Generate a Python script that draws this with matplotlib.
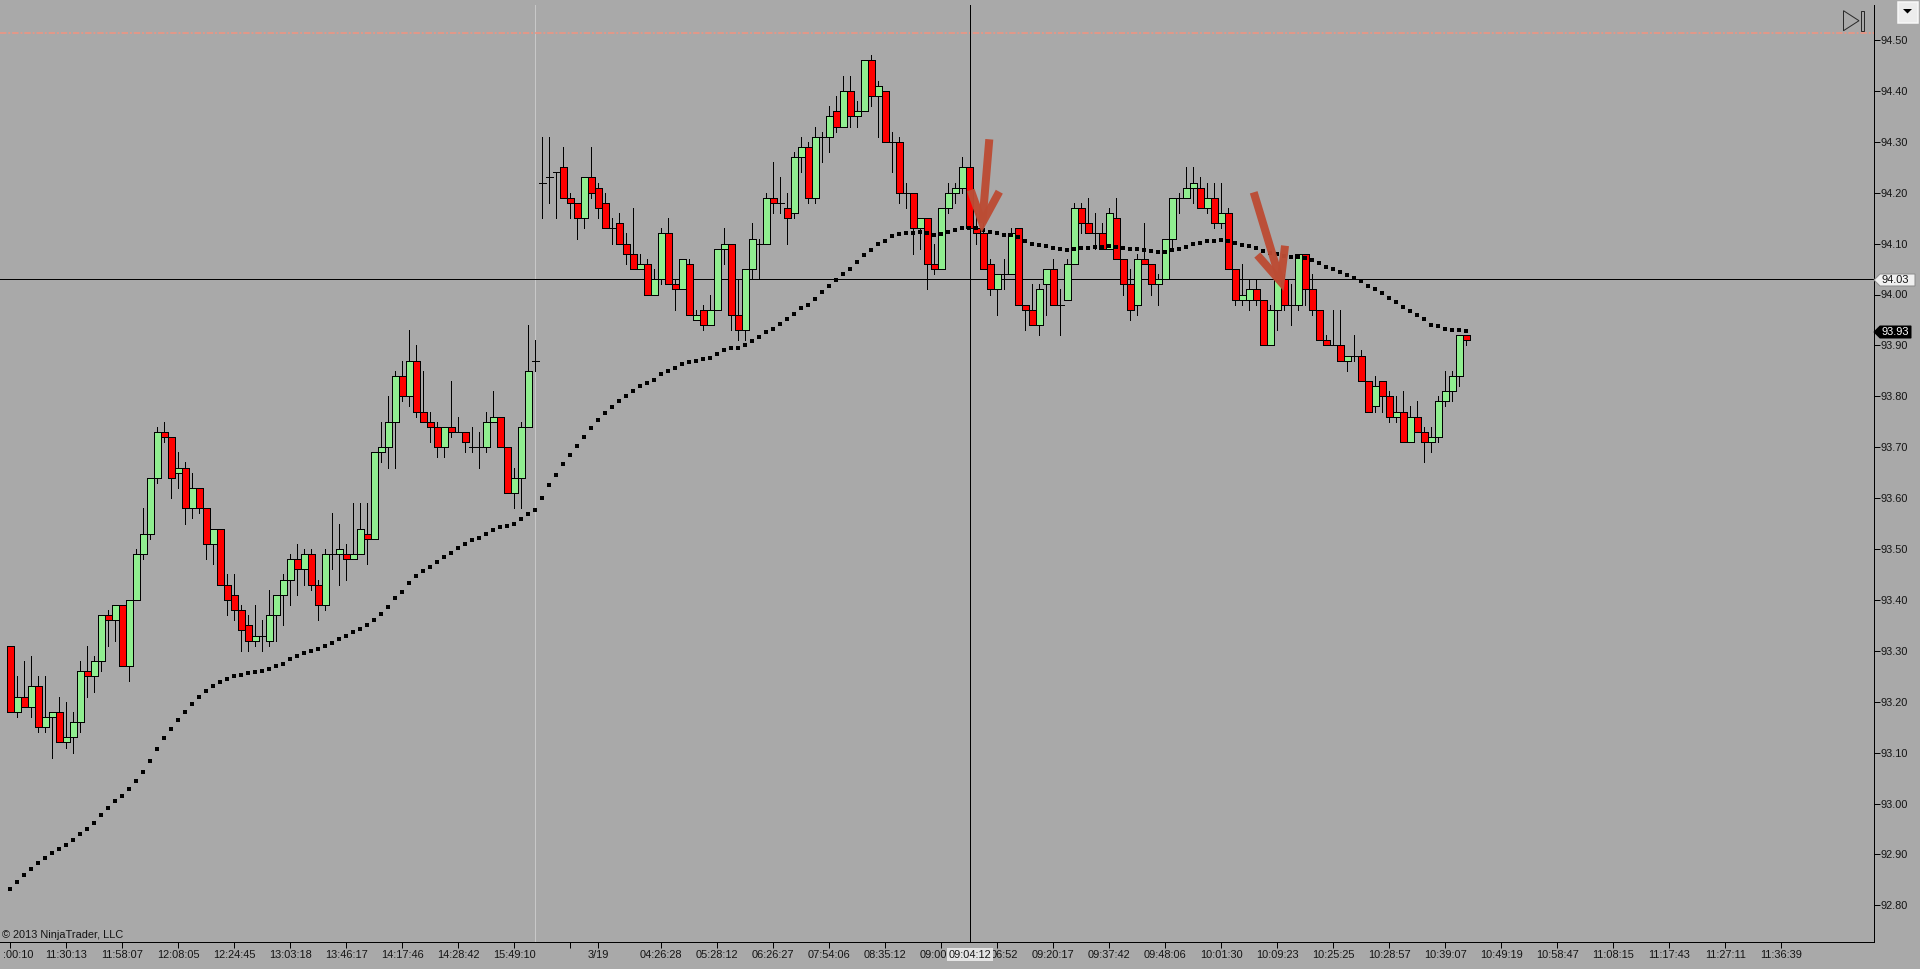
import numpy as np
import matplotlib
matplotlib.use('Agg')
import matplotlib.pyplot as plt
from matplotlib.patches import Polygon, Rectangle
from matplotlib.transforms import Affine2D, ScaledTranslation

# OHLC values, one entry per bar
opens = [
    93.31,93.18,93.21,93.19,93.23,93.15,93.17,93.18,93.12,93.13,
    93.16,93.26,93.25,93.28,93.37,93.36,93.39,93.27,93.40,93.49,
    93.53,93.64,93.73,93.72,93.65,93.66,93.58,93.62,93.58,93.51,
    93.54,93.43,93.41,93.38,93.35,93.32,93.33,93.32,93.37,93.41,
    93.44,93.48,93.46,93.49,93.43,93.39,93.49,93.49,93.49,93.48,
    93.49,93.53,93.52,93.69,93.70,93.75,93.84,93.80,93.87,93.77,
    93.75,93.74,93.70,93.74,93.73,93.73,93.70,93.70,93.70,93.75,
    93.76,93.70,93.61,93.64,93.74,93.87,94.22,94.23,94.24,94.25,
    94.19,94.18,94.15,94.23,94.21,94.18,94.13,94.14,94.10,94.08,
    94.05,94.06,94.00,94.03,94.12,94.02,94.01,94.06,93.95,93.97,
    93.94,93.97,94.09,94.10,93.96,93.93,94.05,94.10,94.10,94.19,
    94.18,94.17,94.16,94.27,94.29,94.19,94.31,94.31,94.36,94.33,
    94.40,94.35,94.36,94.46,94.39,94.40,94.30,94.30,94.20,94.20,
    94.13,94.15,94.06,94.05,94.17,94.20,94.21,94.25,94.13,94.12,
    94.06,94.01,94.04,94.04,94.13,93.98,93.97,93.94,94.02,94.05,
    93.98,93.99,94.06,94.17,94.14,94.12,94.12,94.09,94.15,94.07,
    94.02,93.98,94.07,94.06,94.02,94.03,94.11,94.19,94.19,94.21,
    94.21,94.17,94.19,94.14,94.16,94.05,93.99,93.99,94.01,93.99,
    93.90,93.97,94.03,93.98,93.98,94.08,94.01,93.97,93.91,93.90,
    93.90,93.87,93.88,93.88,93.83,93.78,93.83,93.80,93.76,93.77,
    93.71,93.76,93.73,93.71,93.72,93.79,93.81,93.84,93.92]
closes = [
    93.18,93.21,93.19,93.23,93.15,93.17,93.18,93.12,93.13,93.16,
    93.26,93.25,93.28,93.37,93.36,93.39,93.27,93.40,93.49,93.53,
    93.64,93.73,93.72,93.64,93.66,93.58,93.62,93.58,93.51,93.54,
    93.43,93.40,93.38,93.34,93.32,93.33,93.33,93.37,93.41,93.44,
    93.48,93.46,93.49,93.43,93.39,93.49,93.49,93.50,93.48,93.49,
    93.54,93.52,93.69,93.70,93.75,93.84,93.80,93.87,93.77,93.75,
    93.74,93.70,93.74,93.73,93.73,93.71,93.70,93.70,93.75,93.76,
    93.70,93.61,93.64,93.74,93.85,93.87,94.22,94.23,94.24,94.19,
    94.18,94.15,94.23,94.20,94.17,94.13,94.13,94.10,94.08,94.05,
    94.06,94.00,94.03,94.12,94.02,94.01,94.07,93.96,93.96,93.94,
    93.97,94.09,94.10,93.96,93.93,94.05,94.11,94.10,94.19,94.18,
    94.18,94.15,94.27,94.29,94.19,94.31,94.31,94.35,94.33,94.40,
    94.35,94.36,94.46,94.39,94.41,94.30,94.30,94.20,94.20,94.13,
    94.15,94.06,94.05,94.17,94.20,94.21,94.25,94.13,94.12,94.05,
    94.01,94.04,94.04,94.12,93.98,93.97,93.94,94.01,94.05,93.98,
    93.98,94.06,94.17,94.14,94.12,94.12,94.09,94.16,94.07,94.02,
    93.97,94.07,94.06,94.02,94.03,94.11,94.19,94.19,94.21,94.22,
    94.17,94.19,94.14,94.16,94.05,93.99,94.00,94.01,93.99,93.90,
    93.97,94.03,93.98,93.98,94.08,94.01,93.97,93.91,93.90,93.90,
    93.87,93.88,93.88,93.83,93.77,93.82,93.80,93.76,93.77,93.71,
    93.76,93.73,93.71,93.72,93.79,93.81,93.84,93.92,93.91]
highs = [
    93.31,93.25,93.28,93.29,93.25,93.25,93.18,93.21,93.20,93.18,
    93.28,93.31,93.29,93.37,93.38,93.39,93.39,93.40,93.50,93.58,
    93.64,93.74,93.75,93.72,93.69,93.67,93.65,93.62,93.58,93.54,
    93.54,93.45,93.45,93.39,93.37,93.39,93.36,93.42,93.41,93.45,
    93.49,93.51,93.50,93.50,93.44,93.50,93.57,93.55,93.51,93.59,
    93.59,93.59,93.69,93.75,93.80,93.85,93.87,93.93,93.90,93.85,
    93.77,93.75,93.74,93.83,93.76,93.73,93.74,93.73,93.77,93.81,
    93.76,93.70,93.66,93.75,93.94,93.91,94.31,94.31,94.24,94.29,
    94.20,94.18,94.23,94.29,94.22,94.20,94.15,94.16,94.12,94.17,
    94.08,94.07,94.05,94.13,94.15,94.03,94.07,94.07,93.97,93.98,
    94.00,94.09,94.13,94.10,94.03,94.05,94.14,94.11,94.20,94.26,
    94.23,94.20,94.28,94.31,94.30,94.33,94.32,94.37,94.39,94.43,
    94.43,94.38,94.46,94.47,94.42,94.40,94.32,94.31,94.22,94.20,
    94.15,94.15,94.10,94.17,94.22,94.22,94.27,94.25,94.16,94.14,
    94.07,94.04,94.07,94.13,94.13,93.98,94.02,94.02,94.05,94.07,
    94.01,94.07,94.18,94.18,94.19,94.16,94.14,94.17,94.19,94.07,
    94.05,94.08,94.14,94.06,94.04,94.11,94.19,94.20,94.25,94.25,
    94.23,94.22,94.22,94.22,94.17,94.05,94.06,94.03,94.03,93.99,
    93.98,94.03,94.04,94.02,94.08,94.08,94.04,93.97,93.92,93.97,
    93.97,93.88,93.92,93.89,93.83,93.84,93.83,93.81,93.80,93.81,
    93.78,93.79,93.74,93.74,93.80,93.85,93.85,93.92,93.92]
lows = [
    93.18,93.17,93.19,93.17,93.14,93.14,93.09,93.12,93.11,93.10,
    93.14,93.21,93.22,93.26,93.31,93.32,93.27,93.24,93.40,93.48,
    93.52,93.63,93.71,93.60,93.62,93.55,93.56,93.57,93.48,93.47,
    93.43,93.37,93.36,93.30,93.30,93.31,93.30,93.31,93.32,93.35,
    93.39,93.41,93.43,93.42,93.36,93.38,93.46,93.43,93.44,93.48,
    93.49,93.47,93.52,93.67,93.66,93.66,93.79,93.78,93.76,93.75,
    93.71,93.68,93.68,93.72,93.73,93.69,93.69,93.66,93.69,93.75,
    93.70,93.61,93.58,93.58,93.74,93.85,94.15,94.18,94.15,94.19,
    94.15,94.11,94.13,94.19,94.15,94.13,94.10,94.10,94.06,94.05,
    94.05,94.00,94.00,94.02,94.02,93.97,94.01,93.96,93.95,93.93,
    93.94,93.97,94.06,93.93,93.91,93.91,94.03,94.03,94.10,94.16,
    94.16,94.10,94.15,94.24,94.18,94.18,94.26,94.28,94.32,94.33,
    94.33,94.33,94.36,94.37,94.31,94.30,94.24,94.18,94.17,94.08,
    94.09,94.01,94.04,94.05,94.16,94.18,94.20,94.13,94.10,94.05,
    94.00,93.96,94.01,94.04,93.98,93.93,93.94,93.92,93.96,93.98,
    93.92,93.99,94.06,94.12,94.12,94.09,94.09,94.09,94.07,94.00,
    93.95,93.96,94.06,94.00,93.98,94.03,94.09,94.16,94.19,94.18,
    94.17,94.16,94.13,94.13,94.05,93.98,93.98,93.97,93.98,93.90,
    93.90,93.93,93.97,93.94,93.97,93.98,93.96,93.91,93.90,93.90,
    93.87,93.85,93.87,93.83,93.77,93.77,93.77,93.75,93.75,93.71,
    93.71,93.73,93.67,93.69,93.71,93.78,93.79,93.82,93.90]

# dotted moving average
ma_values = [
    92.833,92.846,92.859,92.871,92.883,92.893,92.903,92.911,92.918,92.928,
    92.940,92.950,92.961,92.977,92.991,93.005,93.015,93.028,93.044,93.062,
    93.083,93.107,93.129,93.146,93.164,93.180,93.195,93.209,93.221,93.231,
    93.239,93.245,93.250,93.252,93.256,93.258,93.260,93.264,93.270,93.275,
    93.283,93.289,93.296,93.300,93.304,93.310,93.316,93.324,93.330,93.336,
    93.342,93.350,93.361,93.373,93.387,93.403,93.416,93.434,93.446,93.456,
    93.465,93.475,93.485,93.493,93.501,93.509,93.517,93.522,93.530,93.538,
    93.544,93.546,93.550,93.558,93.568,93.577,93.601,93.625,93.646,93.667,
    93.684,93.702,93.720,93.738,93.753,93.767,93.778,93.791,93.801,93.810,
    93.820,93.826,93.833,93.843,93.849,93.856,93.863,93.867,93.869,93.874,
    93.876,93.884,93.890,93.894,93.894,93.900,93.908,93.916,93.926,93.933,
    93.943,93.951,93.961,93.973,93.980,93.992,94.004,94.016,94.028,94.041,
    94.051,94.063,94.077,94.088,94.100,94.106,94.114,94.118,94.120,94.120,
    94.122,94.120,94.116,94.118,94.122,94.126,94.130,94.130,94.130,94.126,
    94.122,94.120,94.116,94.116,94.112,94.106,94.100,94.098,94.096,94.092,
    94.089,94.087,94.090,94.092,94.092,94.094,94.094,94.096,94.094,94.092,
    94.089,94.089,94.087,94.085,94.083,94.083,94.087,94.090,94.094,94.100,
    94.102,94.106,94.106,94.108,94.106,94.102,94.098,94.096,94.092,94.085,
    94.081,94.079,94.075,94.073,94.073,94.071,94.067,94.061,94.055,94.050,
    94.044,94.038,94.032,94.026,94.016,94.010,94.002,93.993,93.985,93.975,
    93.967,93.959,93.951,93.941,93.938,93.932,93.930,93.930,93.928]

price_ticks = [94.5 - 0.1 * k for k in range(18)]

time_ticks = list(range(0, 81, 8)) + [84] + list(range(93, 254, 8))
time_labels = [':00:10', '11:30:13', '11:58:07', '12:08:05', '12:24:45', '13:03:18',
               '13:46:17', '14:17:46', '14:28:42', '15:49:10', '', '3/19',
               '04:26:28', '05:28:12', '06:26:27', '07:54:06', '08:35:12', '09:00',
               '06:52', '09:20:17', '09:37:42', '09:48:06', '10:01:30', '10:09:23',
               '10:25:25', '10:28:57', '10:39:07', '10:49:19', '10:58:47', '11:08:15',
               '11:17:43', '11:27:11', '11:36:39']

session_break = 75
cursor_bar = 137.14
cursor_price = 94.03
last_price = 93.93
red_level = 94.514

bg = '#a9a9a9'
up_color = '#90ee90'
down_color = '#ff0000'
arrow_color = '#bc4c34'
text_color = '#141414'
PX = 0.72  # one pixel in points at dpi 100

plt.rcParams['font.family'] = ['Liberation Sans', 'DejaVu Sans']

fig = plt.figure(figsize=(19.2, 9.69), dpi=100, facecolor=bg)
ax = fig.add_axes([0, 27.5 / 969, 1873.5 / 1920, 936.5 / 969], facecolor=bg)

# screen pixels with the origin top left, for the chart's chrome and drawn arrows
screen = Affine2D().scale(1, -1).translate(0, 969)

x = np.arange(len(opens))
o = np.array(opens)
c = np.array(closes)

# separator, levels and cursor go behind the bars
ax.axvline(session_break, color='#c8c8c8', lw=PX, zorder=1)
ax.axhline(red_level, color='#f09482', lw=PX * 1.6, dashes=(4, 1.2, 1.2, 1.2), zorder=1)
ax.axhline(cursor_price, color='black', lw=PX, zorder=1, antialiased=False)
ax.axvline(cursor_bar, color='black', lw=PX, zorder=1, antialiased=False)

ax.vlines(x, lows, highs, color='black', lw=PX, zorder=2, antialiased=False)
colors = np.where(c >= o, up_color, down_color)
ax.bar(x, c - o, bottom=o, width=1.0, color=colors, edgecolor='black', linewidth=PX,
       zorder=3, antialiased=False)
ax.plot(x, ma_values, ls='none', marker='s', ms=4 * PX, mfc='black', mew=0, zorder=4)

ax.set_xlim(-10.33 / 7, (1873.5 - 10.33) / 7)
ax.set_ylim(94.5 - (941.5 - 40) / 509, 94.5 + 35 / 509)

for side in ['top', 'left']:
    ax.spines[side].set_visible(False)
for side in ['bottom', 'right']:
    ax.spines[side].set_linewidth(PX)

ax.yaxis.tick_right()
ax.set_yticks(price_ticks)
ax.set_yticklabels(['%.2f' % p for p in price_ticks])
ax.set_xticks(time_ticks)
ax.set_xticklabels(time_labels)
ax.tick_params(axis='y', length=6 * PX, width=PX, pad=1, labelsize=7.9, labelcolor=text_color)
ax.tick_params(axis='x', length=6 * PX, width=PX, pad=2, labelsize=7.9, labelcolor=text_color)

# the labels cut off by the window edge and by the cursor box
labels = ax.get_xticklabels()
labels[0].set_transform(labels[0].get_transform() + ScaledTranslation(8 / 100, 0, fig.dpi_scale_trans))
labels[17].set_transform(labels[17].get_transform() + ScaledTranslation(-7.5 / 100, 0, fig.dpi_scale_trans))
labels[18].set_transform(labels[18].get_transform() + ScaledTranslation(7 / 100, 0, fig.dpi_scale_trans))

# drawn arrows
arrows = [((989.3, 139.3), (982.3, 223), (970.7, 190), (999.3, 191.7)),
          ((1253.7, 192.3), (1280.7, 281.7), (1257.3, 255), (1285, 245.7))]
for tail, tip, barb_a, barb_b in arrows:
    ax.plot([tail[0], tip[0]], [tail[1], tip[1]], transform=screen, color=arrow_color,
            lw=8 * PX, alpha=0.97, solid_capstyle='butt', clip_on=False, zorder=6)
    ax.plot([barb_a[0], tip[0], barb_b[0]], [barb_a[1], tip[1], barb_b[1]], transform=screen,
            color=arrow_color, lw=8 * PX, alpha=0.97, solid_capstyle='butt',
            solid_joinstyle='miter', clip_on=False, zorder=6)

# price markers on the axis
marker_cursor = Polygon([(1874, 280), (1880, 274), (1915, 274), (1915, 286), (1880, 286)],
                        transform=screen, fc='#f0f0f0', ec='#8c8c8c', lw=PX, clip_on=False, zorder=7)
marker_last = Polygon([(1874, 332), (1880, 326), (1911, 326), (1911, 338), (1880, 338)],
                      transform=screen, fc='black', ec='black', lw=PX, clip_on=False, zorder=7)
ax.add_patch(marker_cursor)
ax.add_patch(marker_last)
ax.text(1882, 280.3, '%.2f' % cursor_price, transform=screen, fontsize=7.9, color=text_color,
        va='center', ha='left', clip_on=False, zorder=8)
ax.text(1882, 332.3, '%.2f' % last_price, transform=screen, fontsize=7.9, color='white',
        va='center', ha='left', clip_on=False, zorder=8)

# cursor time box
ax.add_patch(Rectangle((947, 948), 46, 13, transform=screen, fc='#e4e4e4', ec='none', clip_on=False, zorder=7))
ax.text(970, 954.5, '09:04:12', transform=screen, fontsize=7.9, color=text_color,
        va='center', ha='center', clip_on=False, zorder=8)

ax.text(2.5, 935.5, '\u00a9 2013 NinjaTrader, LLC', transform=screen, fontsize=7.9, color=text_color,
        va='center', ha='left', zorder=8)

# jump-to-end icon
ax.add_patch(Polygon([(1843.5, 10.7), (1859, 20.7), (1843.5, 30.7)], transform=screen,
                     fc='none', ec='#2a2a2a', lw=PX, clip_on=False, zorder=7))
ax.add_patch(Rectangle((1860.5, 10.7), 3.2, 20, transform=screen, fc='none', ec='#2a2a2a',
                       lw=PX, clip_on=False, zorder=7))

# drop-down button in the corner
ax.add_patch(Rectangle((1897.5, 1.5), 20.5, 21.5, transform=screen, fc='#ececec', ec='#f8f8f8',
                       lw=PX * 1.5, clip_on=False, zorder=7))
ax.add_patch(Polygon([(1903, 9), (1912, 9), (1907.5, 13.5)], transform=screen, fc='black',
                     ec='none', clip_on=False, zorder=8))

fig.savefig('out.png', dpi=100, facecolor=bg)
